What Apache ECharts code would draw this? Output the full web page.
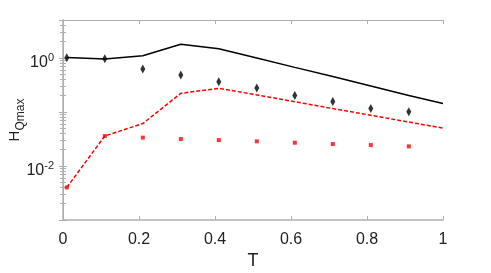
<!DOCTYPE html>
<html><head><meta charset="utf-8">
<script src="https://cdn.jsdelivr.net/npm/echarts@6/dist/echarts.min.js"></script>
<style>html,body{margin:0;padding:0;background:#fff}#c{width:491px;height:273px}</style>
</head><body><div id="c"></div>
<script>
const T = [0.01,0.11,0.21,0.31,0.41,0.51,0.61,0.71,0.81,0.91];
const Tline = [0.01,0.11,0.21,0.31,0.41,0.51,0.61,0.71,0.81,0.91,1.0];
const blackLine = [1.01,0.95,1.09,1.78,1.47,0.99,0.665,0.45,0.30,0.20,0.143];
const redLine = [0.0040,0.0357,0.0608,0.22,0.272,0.206,0.154,0.115,0.0865,0.0648,0.050];
const blackPts = [1.0,0.96,0.62,0.48,0.36,0.275,0.20,0.155,0.115,0.10];
const redPts = [0.0040,0.0357,0.0334,0.0314,0.030,0.0285,0.0269,0.0254,0.0243,0.023];
const xTicks = [0,0.2,0.4,0.6,0.8,1];
const yLabels = {'1':'{b|10}{s|0}','0.01':'{b|10}{s|-2}'};

const zip = (xs, ys) => xs.map((x,i)=>[x,ys[i]]);
const axisGrey = '#b0b0b0';
const font = 'Liberation Sans, Arial, sans-serif';

const chart = echarts.init(document.getElementById('c'));
chart.setOption({
  animation:false,
  backgroundColor:'#fff',
  grid:{left:63,right:48,top:20,bottom:53,containLabel:false,outerBoundsMode:'none'},
  xAxis:[{
    type:'value',min:0,max:1,interval:0.2,position:'bottom',
    name:'T',nameLocation:'middle',nameGap:32,nameMoveOverlap:false,
    nameTextStyle:{fontFamily:font,fontSize:18,color:'#222'},
    axisLine:{lineStyle:{color:axisGrey,width:1.5}},
    axisTick:{inside:true,length:4,lineStyle:{color:axisGrey}},
    axisLabel:{fontFamily:font,fontSize:16,color:'#222',margin:12,
      formatter:v=>xTicks.includes(+v.toFixed(1))?String(+v.toFixed(1)):''},
    splitLine:{show:false}
  },{
    type:'value',min:0,max:1,interval:0.2,position:'top',
    axisLine:{lineStyle:{color:axisGrey,width:1}},
    axisTick:{inside:true,length:4,lineStyle:{color:axisGrey}},
    axisLabel:{show:false},splitLine:{show:false}
  }],
  yAxis:[{
    type:'log',logBase:10,min:0.001,max:5,position:'left',
    name:'{h|H}{q|Qmax}',nameLocation:'middle',nameGap:36,nameRotate:90,nameMoveOverlap:false,
    nameTextStyle:{fontFamily:font,color:'#222',
      rich:{h:{fontFamily:font,fontSize:15,color:'#222',verticalAlign:'top',lineHeight:20},
            q:{fontFamily:font,fontSize:12,color:'#222',verticalAlign:'bottom',lineHeight:12}}},
    axisLine:{show:true,lineStyle:{color:axisGrey,width:1.5}},
    axisTick:{inside:true,length:4,lineStyle:{color:axisGrey}},
    minorTick:{show:true,splitNumber:9,length:3,lineStyle:{color:axisGrey}},
    axisLabel:{fontFamily:font,color:'#222',margin:9,padding:[8,0,0,0],
      formatter:v=>{
        const k = Math.abs(v-1)<1e-9?'1':(Math.abs(v-0.01)<1e-9?'0.01':null);
        return k?yLabels[k]:'';
      },
      rich:{b:{fontFamily:font,fontSize:16,color:'#222',lineHeight:18,verticalAlign:'bottom'},
            s:{fontFamily:font,fontSize:11,color:'#222',lineHeight:11,verticalAlign:'top'}}},
    splitLine:{show:false},minorSplitLine:{show:false}
  },{
    type:'log',logBase:10,min:0.001,max:5,position:'right',
    axisLine:{show:true,lineStyle:{color:axisGrey,width:1}},
    axisTick:{inside:true,length:4,lineStyle:{color:axisGrey}},
    minorTick:{show:true,splitNumber:9,length:3,lineStyle:{color:axisGrey}},
    axisLabel:{show:false},splitLine:{show:false}
  }],
  series:[
    {type:'line',data:zip(Tline,blackLine),showSymbol:false,symbol:'none',
     lineStyle:{color:'#000',width:1.5},z:3},
    {type:'line',data:zip(Tline,redLine),showSymbol:false,symbol:'none',
     lineStyle:{color:'#ff0000',width:1.5,type:[4,2]},z:3},
    {type:'scatter',data:zip(T,blackPts),symbol:'diamond',symbolSize:[5,9],
     itemStyle:{color:'#000'},z:4},
    {type:'scatter',data:zip(T,redPts),symbol:'rect',symbolSize:4,
     itemStyle:{color:'#ff0000'},z:4}
  ]
});
</script></body></html>
